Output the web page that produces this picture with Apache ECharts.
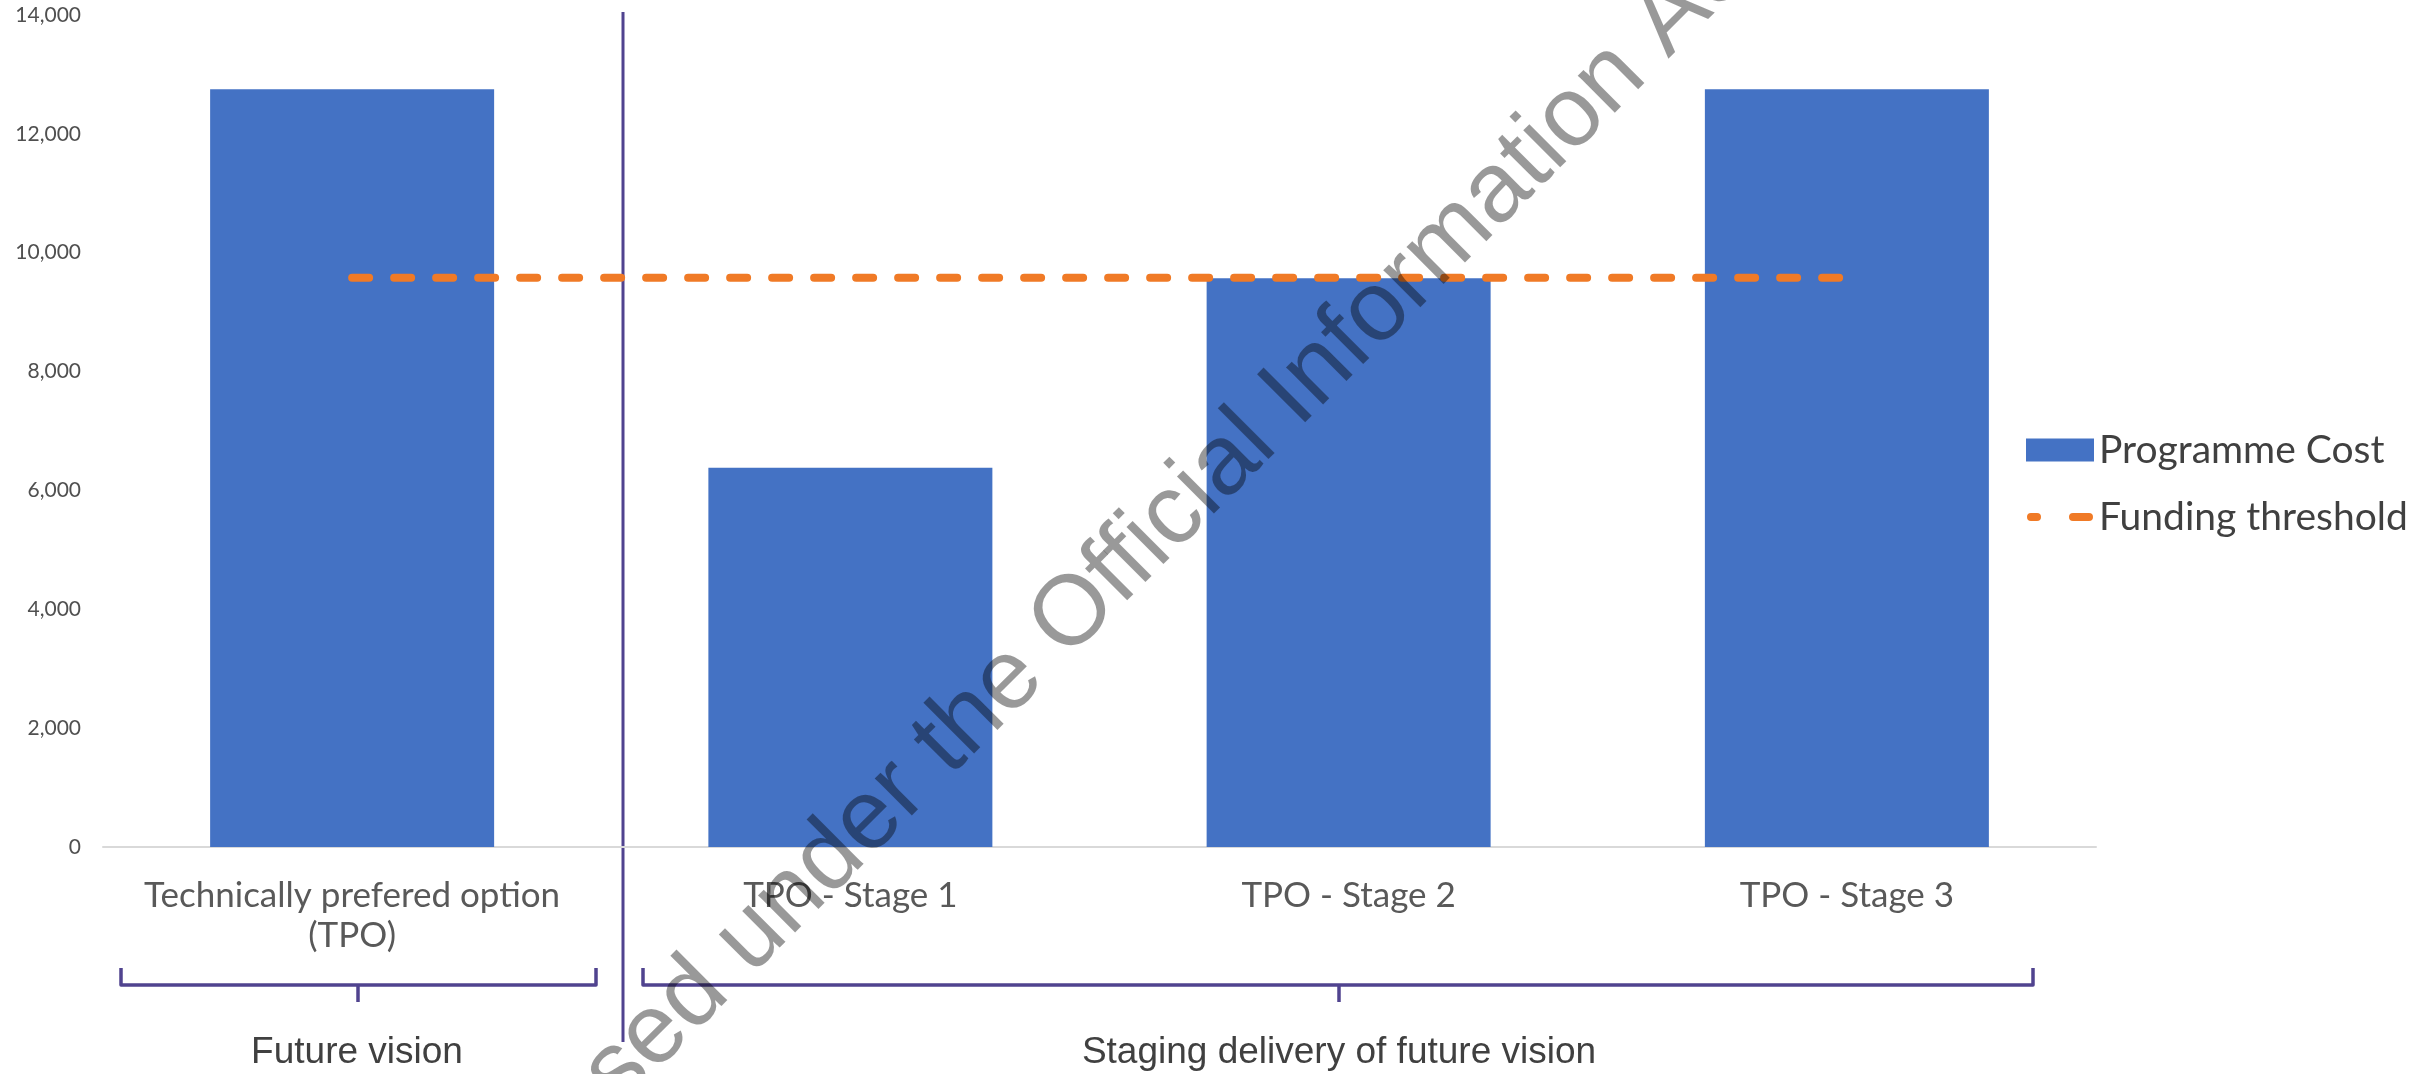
<!DOCTYPE html>
<html>
<head>
<meta charset="utf-8">
<script src="https://cdn.jsdelivr.net/npm/echarts@6/dist/echarts.min.js"></script>
<style>
  html, body { margin: 0; padding: 0; background: #fff; }
  #chart { width: 2430px; height: 1074px; }
</style>
</head>
<body>
<div id="chart"></div>
<script>
// chart values
var categories = ['Technically prefered option\n(TPO)', 'TPO - Stage 1', 'TPO - Stage 2', 'TPO - Stage 3'];
var programmeCost = [12750, 6380, 9570, 12750];
var fundingThreshold = [9580, 9580, 9580, 9580];
var seriesNames = ['Programme Cost', 'Funding threshold'];
var groupLabels = ['Future vision', 'Staging delivery of future vision'];
var watermark = 'Released under the Official Information Act';

var blue = '#4472C4';
var orange = '#F07A26';
var purple = '#50438F';
var labelFont = 'Lato';

// two rounded dashes, padded to a 68x23 box so the legend does not rescale it
var dashIcon = 'path://M0,0h0.01v0.01h-0.01z M0,23h0.01v-0.01h-0.01z' +
    'M4,7.5h6a4,4 0 0 1 0,8h-6a4,4 0 0 1 0,-8z' +
    'M46,7.5h16a4,4 0 0 1 0,8h-16a4,4 0 0 1 0,-8z';

// brace: left end, right end, centre tick
function brace(x1, x2, xm) {
    return [
        {
            type: 'polyline',
            shape: { points: [[x1, 968], [x1, 985], [x2, 985], [x2, 968]] },
            style: { stroke: purple, lineWidth: 3.5, fill: null, lineJoin: 'round' }
        },
        {
            type: 'line',
            shape: { x1: xm, y1: 985, x2: xm, y2: 1002 },
            style: { stroke: purple, lineWidth: 3.5 }
        }
    ];
}

var graphics = [
    {
        type: 'line',
        shape: { x1: 623, y1: 12, x2: 623, y2: 1042 },
        style: { stroke: purple, lineWidth: 3 }
    },
    {
        type: 'text', x: 357, y: 1053,
        style: { text: groupLabels[0], fontFamily: 'Liberation Sans', fontSize: 37, fill: '#404040', align: 'center', verticalAlign: 'middle' }
    },
    {
        type: 'text', x: 1339, y: 1053,
        style: { text: groupLabels[1], fontFamily: 'Liberation Sans', fontSize: 37, fill: '#404040', align: 'center', verticalAlign: 'middle' }
    },
    {
        // anchored on the "O" of "Official"; translucent black darkens the bars like the scan
        type: 'text', x: 1073, y: 613, rotation: Math.PI / 4, z: 100,
        style: {
            text: watermark, x: -930, y: 2,
            fontFamily: 'Liberation Sans', fontSize: 99,
            fill: 'rgba(0,0,0,0.4)', align: 'left', verticalAlign: 'middle'
        }
    }
].concat(brace(121, 596, 358)).concat(brace(643, 2033, 1339));

var option = {
    animation: false,
    backgroundColor: '#ffffff',
    grid: { left: 103, right: 334, top: 15, bottom: 227 },
    legend: {
        orient: 'vertical',
        left: 2021,
        top: 423,
        itemWidth: 68,
        itemHeight: 23,
        itemGap: 23,
        textStyle: { fontFamily: labelFont, fontSize: 39, color: '#404040', lineHeight: 44 },
        data: [
            { name: seriesNames[0], icon: 'rect' },
            { name: seriesNames[1], icon: dashIcon, itemStyle: { color: orange } }
        ]
    },
    xAxis: {
        type: 'category',
        data: categories,
        axisLine: { lineStyle: { color: '#d9d9d9', width: 2 } },
        axisTick: { show: false },
        axisLabel: { interval: 0, margin: 29, fontFamily: labelFont, fontSize: 35, lineHeight: 40, color: '#595959' }
    },
    yAxis: {
        type: 'value',
        min: 0,
        max: 14000,
        interval: 2000,
        splitLine: { show: false },
        axisLine: { show: false },
        axisTick: { show: false },
        axisLabel: {
            margin: 22, fontFamily: labelFont, fontSize: 21, color: '#505050',
            formatter: function (v) { return v.toLocaleString('en-US'); }
        }
    },
    series: [
        {
            name: seriesNames[0],
            type: 'bar',
            data: programmeCost,
            barWidth: 284,
            itemStyle: { color: blue },
            z: 2
        },
        {
            name: seriesNames[1],
            type: 'line',
            data: fundingThreshold,
            symbol: 'none',
            itemStyle: { color: orange },
            lineStyle: { color: orange, width: 8, type: [17, 25], cap: 'round' },
            z: 3
        }
    ],
    graphic: graphics
};

var chart = echarts.init(document.getElementById('chart'));
chart.setOption(option);
</script>
</body>
</html>
